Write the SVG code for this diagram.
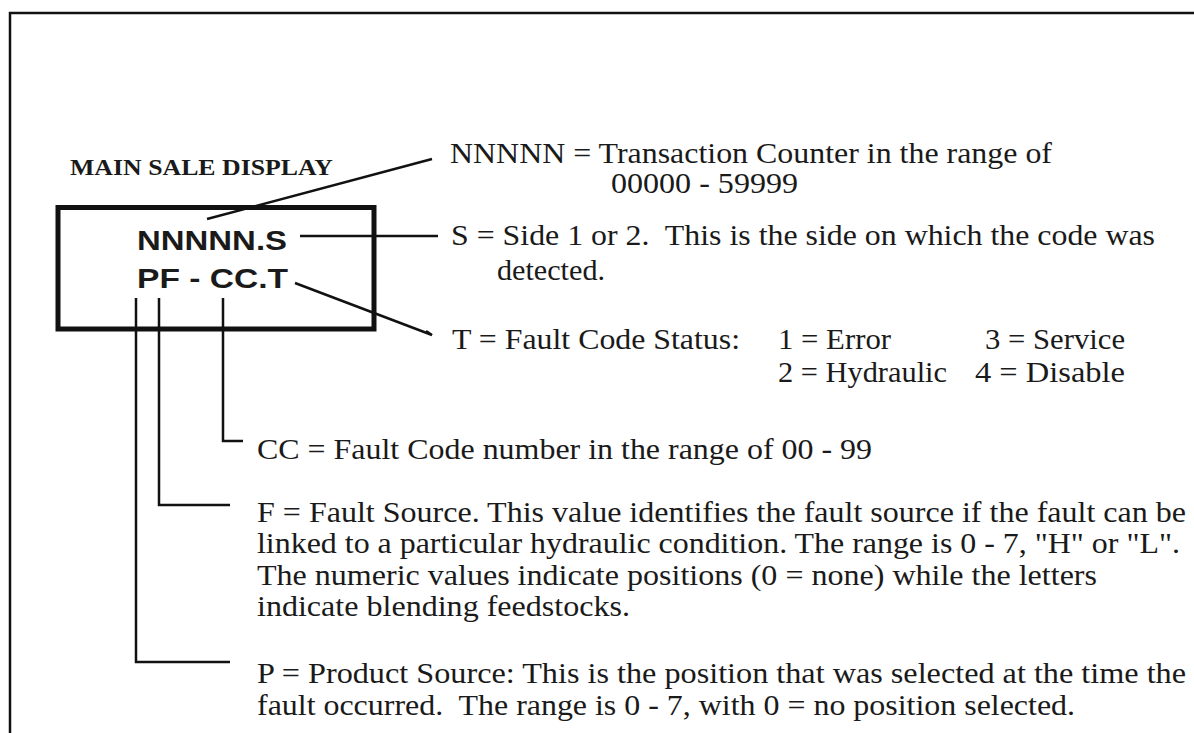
<svg xmlns="http://www.w3.org/2000/svg" width="1194" height="733" viewBox="0 0 1194 733">
<style>
.t{font-family:"Liberation Serif","Times New Roman",serif;font-size:30px;fill:#1a1a1a}
.h{font-family:"Liberation Serif","Times New Roman",serif;font-size:24px;font-weight:bold;fill:#1a1a1a}
.d{font-family:"Liberation Sans",Arial,sans-serif;font-size:28px;font-weight:bold;fill:#1a1a1a}
.c{fill:none;stroke:#111;stroke-width:2.5}
</style>
<rect width="1194" height="733" fill="#fff"/>
<path d="M10,733 V13 H1194" fill="none" stroke="#111" stroke-width="2.5"/>
<g id="display">
<text class="h" x="70" y="175" textLength="263" lengthAdjust="spacingAndGlyphs">MAIN SALE DISPLAY</text>
<rect x="58" y="207.5" width="316" height="121.5" fill="none" stroke="#111" stroke-width="5"/>
<text class="d" x="137" y="250" textLength="150" lengthAdjust="spacingAndGlyphs">NNNNN.S</text>
<text class="d" x="137" y="288" textLength="151" lengthAdjust="spacingAndGlyphs">PF - CC.T</text>
</g>
<g id="connectors">
<line class="c" x1="207" y1="219" x2="432" y2="159"/>
<line class="c" x1="300" y1="236" x2="438" y2="236"/>
<polyline class="c" points="295,283 432,335 426,331"/>
<polyline class="c" points="223,298 223,441 243,441"/>
<polyline class="c" points="159,298 159,505 230,505"/>
<polyline class="c" points="136,298 136,662 230,662"/>
</g>
<g id="note-n">
<text class="t" x="450" y="163" textLength="602" lengthAdjust="spacingAndGlyphs">NNNNN = Transaction Counter in the range of</text>
<text class="t" x="611" y="193" textLength="187" lengthAdjust="spacingAndGlyphs">00000 - 59999</text>
</g>
<g id="note-s">
<text class="t" x="451" y="245" textLength="704" lengthAdjust="spacingAndGlyphs" xml:space="preserve">S = Side 1 or 2.  This is the side on which the code was</text>
<text class="t" x="497" y="280" textLength="108" lengthAdjust="spacingAndGlyphs">detected.</text>
</g>
<g id="note-t">
<text class="t" x="452" y="349" textLength="288" lengthAdjust="spacingAndGlyphs">T = Fault Code Status:</text>
<text class="t" x="778" y="349" textLength="113" lengthAdjust="spacingAndGlyphs">1 = Error</text>
<text class="t" x="985" y="349" textLength="140" lengthAdjust="spacingAndGlyphs">3 = Service</text>
<text class="t" x="778" y="382" textLength="169" lengthAdjust="spacingAndGlyphs">2 = Hydraulic</text>
<text class="t" x="975" y="382" textLength="150" lengthAdjust="spacingAndGlyphs">4 = Disable</text>
</g>
<g id="note-cc">
<text class="t" x="257" y="459" textLength="615" lengthAdjust="spacingAndGlyphs">CC = Fault Code number in the range of 00 - 99</text>
</g>
<g id="note-f">
<text class="t" x="257" y="522" textLength="929" lengthAdjust="spacingAndGlyphs">F = Fault Source. This value identifies the fault source if the fault can be</text>
<text class="t" x="257" y="553" textLength="923" lengthAdjust="spacingAndGlyphs">linked to a particular hydraulic condition. The range is 0 - 7, "H" or "L".</text>
<text class="t" x="257" y="585" textLength="840" lengthAdjust="spacingAndGlyphs">The numeric values indicate positions (0 = none) while the letters</text>
<text class="t" x="257" y="616" textLength="373" lengthAdjust="spacingAndGlyphs">indicate blending feedstocks.</text>
</g>
<g id="note-p">
<text class="t" x="257" y="683" textLength="929" lengthAdjust="spacingAndGlyphs">P = Product Source: This is the position that was selected at the time the</text>
<text class="t" x="257" y="715" textLength="818" lengthAdjust="spacingAndGlyphs" xml:space="preserve">fault occurred.  The range is 0 - 7, with 0 = no position selected.</text>
</g>
</svg>
